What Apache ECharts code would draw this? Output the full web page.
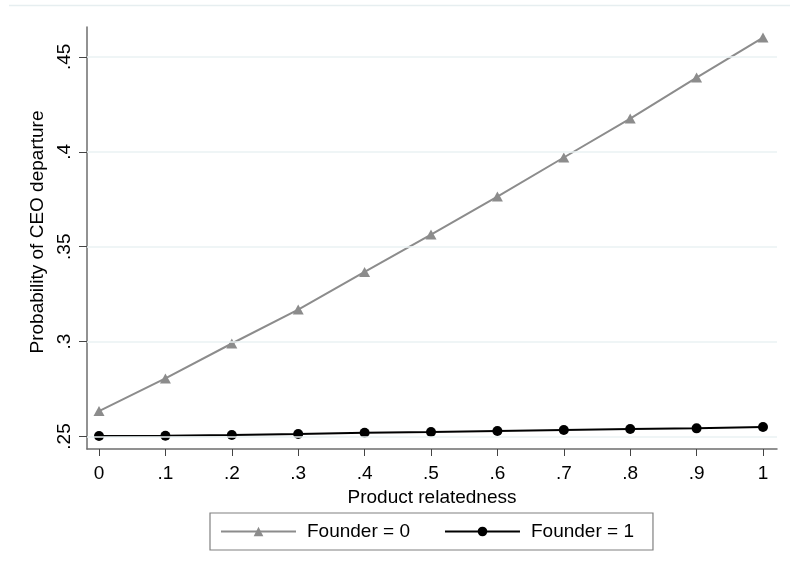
<!DOCTYPE html>
<html>
<head>
<meta charset="utf-8">
<script src="https://cdn.jsdelivr.net/npm/echarts@6/dist/echarts.min.js"></script>
<style>html,body{margin:0;padding:0;background:#fff;}#c{width:790px;height:574px;}</style>
</head>
<body>
<div id="c"></div>
<script>
var xValues = [0, 0.1, 0.2, 0.3, 0.4, 0.5, 0.6, 0.7, 0.8, 0.9, 1];
var founder0 = [0.2634, 0.2806, 0.2990, 0.3169, 0.3367, 0.3564, 0.3764, 0.3970, 0.4175, 0.4391, 0.4602];
var founder1 = [0.2503, 0.2504, 0.2508, 0.2513, 0.2520, 0.2524, 0.2529, 0.2534, 0.2540, 0.2543, 0.2550];
var seriesNames = ['Founder = 0', 'Founder = 1'];
var xTicks = [0, 0.1, 0.2, 0.3, 0.4, 0.5, 0.6, 0.7, 0.8, 0.9, 1];
var yTicks = [0.25, 0.3, 0.35, 0.4, 0.45];
var xTitle = 'Product relatedness';
var yTitle = 'Probability of CEO departure';

function pairs(xs, ys) { return xs.map(function (x, i) { return [x, ys[i]]; }); }
function fmt(v) {
  var s = String(Math.round(v * 100) / 100);
  return s.indexOf('0.') === 0 ? s.slice(1) : s;
}
var font = 'Liberation Sans, Arial, sans-serif';
var chart = echarts.init(document.getElementById('c'), null, { renderer: 'canvas' });
chart.setOption({
  animation: false,
  backgroundColor: '#ffffff',
  grid: { left: 87, right: 13, top: 27, bottom: 125, containLabel: false },
  xAxis: {
    type: 'value', min: -0.0181, max: 1.0211,
    name: xTitle, nameLocation: 'middle', nameGap: 37,
    nameTextStyle: { fontFamily: font, fontSize: 19, color: '#000' },
    axisLine: { show: true, onZero: false, lineStyle: { color: '#6e6e6e', width: 1.5 } },
    axisTick: { show: true, length: 7, customValues: xTicks, lineStyle: { color: '#444', width: 1 } },
    axisLabel: { customValues: xTicks, formatter: fmt, margin: 15, fontFamily: font, fontSize: 19, color: '#000' },
    splitLine: { show: false }
  },
  yAxis: {
    type: 'value', min: 0.24342, max: 0.46575,
    name: yTitle, nameLocation: 'middle', nameGap: 35,
    nameTextStyle: { fontFamily: font, fontSize: 19, color: '#000', padding: [0, 0, 0, 12] },
    axisLine: { show: true, onZero: false, lineStyle: { color: '#6e6e6e', width: 1.5 } },
    axisTick: { show: true, length: 8, customValues: yTicks, lineStyle: { color: '#444', width: 1 } },
    axisLabel: { customValues: yTicks, formatter: fmt, rotate: 90, margin: 13, fontFamily: font, fontSize: 19, color: '#000' },
    splitLine: { show: false }
  },
  legend: {
    left: 210, top: 513,
    orient: 'horizontal',
    padding: [9, 19, 9, 10],
    borderColor: '#808080', borderWidth: 1.2,
    itemWidth: 75, itemHeight: 12, itemGap: 34,
    textStyle: { fontFamily: font, fontSize: 19, color: '#000', padding: [0, 0, 0, 6] },
    data: seriesNames
  },
  graphic: [{
    type: 'line', shape: { x1: 9, y1: 5.5, x2: 790, y2: 5.5 },
    style: { stroke: '#e6eef0', lineWidth: 1.5 }, silent: true
  }],
  series: [
    {
      name: 'grid', type: 'line', data: [], silent: true, z: 0,
      markLine: {
        silent: true, symbol: 'none', label: { show: false },
        lineStyle: { color: '#eaf2f3', width: 1.5, type: 'solid' },
        data: yTicks.map(function (v) { return { yAxis: v }; })
      }
    },
    {
      name: seriesNames[0], type: 'line', data: pairs(xValues, founder0), z: 3,
      symbol: 'triangle', symbolSize: [11, 10],
      lineStyle: { color: '#8c8c8c', width: 2 },
      itemStyle: { color: '#8c8c8c' }
    },
    {
      name: seriesNames[1], type: 'line', data: pairs(xValues, founder1), z: 4,
      symbol: 'circle', symbolSize: 10,
      lineStyle: { color: '#000', width: 2 },
      itemStyle: { color: '#000' }
    }
  ]
});
</script>
</body>
</html>
